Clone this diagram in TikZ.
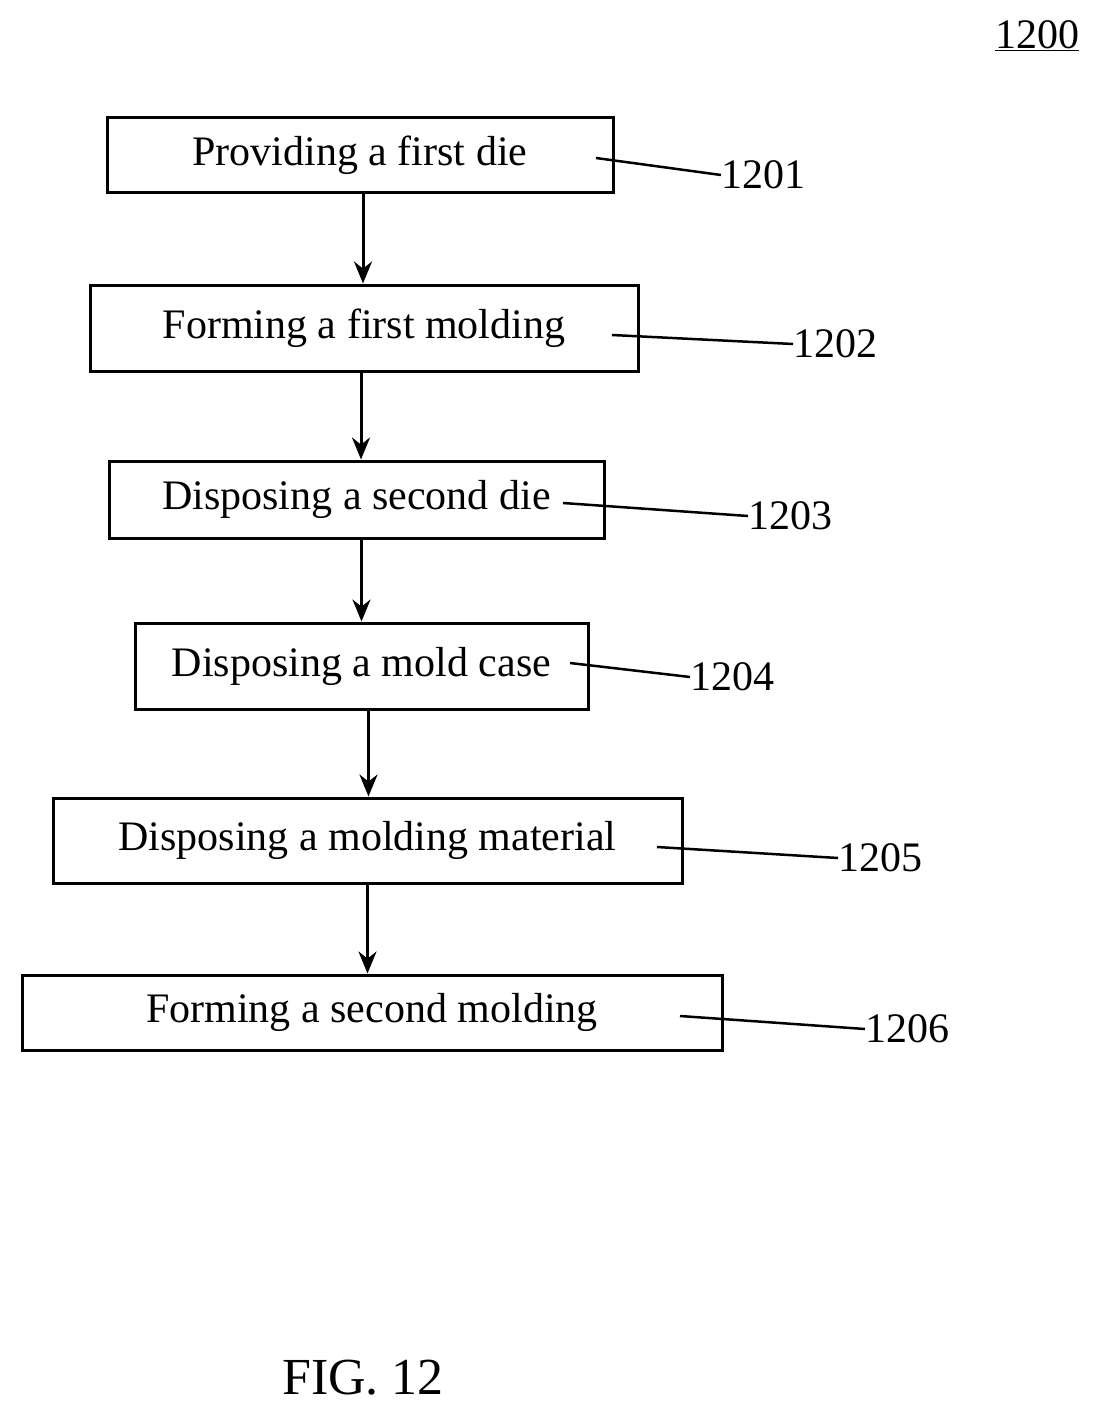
\documentclass[tikz,border=0pt]{standalone}
\usepackage{fontspec}
\setmainfont{Liberation Serif}
\usetikzlibrary{arrows,arrows.meta}

\begin{document}
\begin{tikzpicture}[x=1pt,y=-1pt,>=stealth',semithick,
    font=\fontsize{42}{46}\selectfont]
  \tikzstyle{stepbox}=[draw=black,line width=3pt,inner sep=0pt]
  \tikzstyle{flow}=[-{Stealth[length=22pt,width=18pt]},line width=3pt]
  \tikzstyle{lead}=[line width=2.5pt]
  \useasboundingbox (0,0) rectangle (1100,1415);

  \node[stepbox,minimum width=506,minimum height=75] (S1) at (360,155.5) {\raisebox{4pt}{Providing a first die}};
  \node[stepbox,minimum width=548,minimum height=86] (S2) at (364,328)   {\raisebox{8pt}{Forming a first molding}};
  \node[stepbox,minimum width=495,minimum height=77] (S3) at (356.5,499.5) {\raisebox{4pt}{Disposing a second die}};
  \node[stepbox,minimum width=453,minimum height=86] (S4) at (361.5,666) {\raisebox{8pt}{Disposing a mold case}};
  \node[stepbox,minimum width=629,minimum height=85] (S5) at (367.5,840.5) {\raisebox{8pt}{Disposing a molding material}};
  \node[stepbox,minimum width=700,minimum height=75] (S6) at (372,1012.5) {\raisebox{4pt}{Forming a second molding}};

  \node[anchor=west,inner sep=0pt] (L1) at (721,175)  {1201};
  \node[anchor=west,inner sep=0pt] (L2) at (793,344)  {1202};
  \node[anchor=west,inner sep=0pt] (L3) at (748,516)  {1203};
  \node[anchor=west,inner sep=0pt] (L4) at (690,677)  {1204};
  \node[anchor=west,inner sep=0pt] (L5) at (838,858)  {1205};
  \node[anchor=west,inner sep=0pt] (L6) at (865,1029) {1206};
  \node[inner sep=0pt] (N) at (1037,36) {\underline{1200}};
  \node[inner sep=0pt,font=\fontsize{52}{56}\selectfont] (fig) at (363,1378) {FIG. 12};

  \coordinate (P1) at (596,158);
  \coordinate (P2) at (612,335);
  \coordinate (P3) at (563,503);
  \coordinate (P4) at (570,663);
  \coordinate (P5) at (657,847);
  \coordinate (P6) at (680,1016);

  \draw[lead] (P1) -- (L1.west);
  \draw[lead] (P2) -- (L2.west);
  \draw[lead] (P3) -- (L3.west);
  \draw[lead] (P4) -- (L4.west);
  \draw[lead] (P5) -- (L5.west);
  \draw[lead] (P6) -- (L6.west);

  \draw[flow] ([xshift=3pt]S1.south) -- ([xshift=3pt]S1.south |- S2.north);
  \draw[flow] ([xshift=-3pt]S2.south) -- ([xshift=-3pt]S2.south |- S3.north);
  \draw[flow] ([xshift=5pt]S3.south) -- ([xshift=5pt]S3.south |- S4.north);
  \draw[flow] ([xshift=7pt]S4.south) -- ([xshift=7pt]S4.south |- S5.north);
  \draw[flow] (S5.south) -- (S5.south |- S6.north);
\end{tikzpicture}
\end{document}
